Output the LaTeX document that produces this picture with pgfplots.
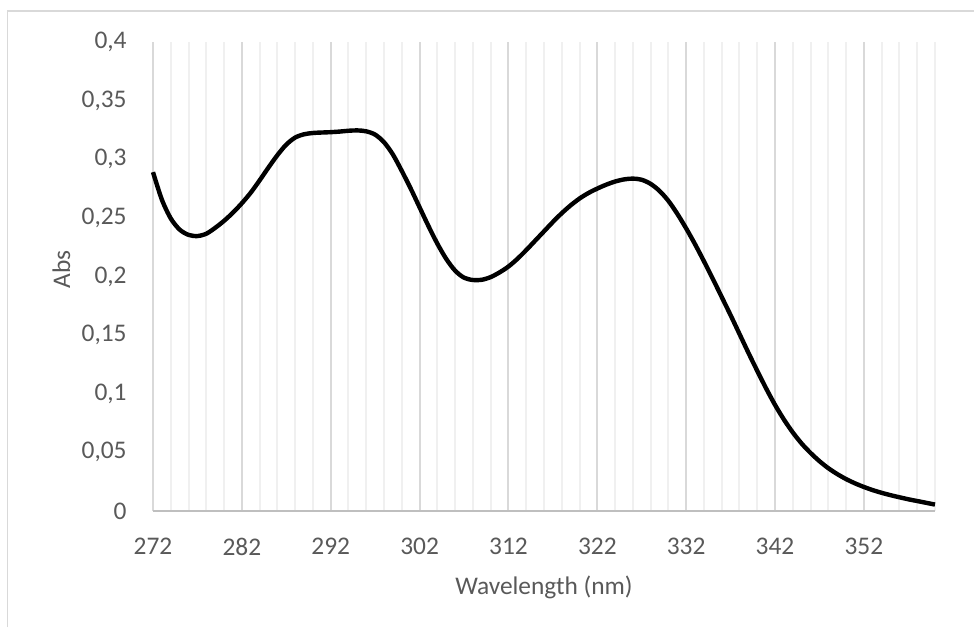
\documentclass[border=0pt]{standalone}
\usepackage{pgfplots}
\pgfplotsset{compat=1.18}
\usepackage{fontspec}
\setmainfont{Carlito}
\definecolor{ctext}{HTML}{595959}
\definecolor{cmajor}{HTML}{D9D9D9}
\definecolor{cminor}{HTML}{F0F0F0}
\definecolor{caxis}{HTML}{BFBFBF}
\definecolor{cborder}{HTML}{D9D9D9}
\pgfplotstableread{
x y
272 0.289
273 0.2655
274 0.2495
275 0.2400
276 0.2355
277 0.2345
278 0.2365
279 0.2415
280 0.2475
281 0.2545
282 0.2625
283 0.2715
284 0.2820
285 0.2930
286 0.3035
287 0.3125
288 0.3185
289 0.3213
290 0.3224
291 0.3228
292 0.3231
293 0.3236
294 0.3243
295 0.3246
296 0.3238
297 0.3210
298 0.3145
299 0.3040
300 0.2900
301 0.2750
302 0.2590
303 0.2430
304 0.2280
305 0.2150
306 0.2050
307 0.1990
308 0.1970
309 0.1972
310 0.1995
311 0.2035
312 0.2085
313 0.2150
314 0.2225
315 0.2305
316 0.2385
317 0.2465
318 0.2540
319 0.2607
320 0.2665
321 0.2712
322 0.2750
323 0.2783
324 0.2810
325 0.2828
326 0.2835
327 0.2825
328 0.2790
329 0.2730
330 0.2645
331 0.2535
332 0.2410
333 0.2275
334 0.2130
335 0.1980
336 0.1825
337 0.1670
338 0.1510
339 0.1350
340 0.1195
341 0.1045
342 0.0905
343 0.0780
344 0.0670
345 0.0575
346 0.0495
347 0.0425
348 0.0365
349 0.0315
350 0.0272
351 0.0236
352 0.0205
353 0.0178
354 0.0155
355 0.0135
356 0.0117
357 0.0100
358 0.0085
359 0.0070
360 0.0055
}\spectrum
\begin{document}
\begin{tikzpicture}
\useasboundingbox (0,0) rectangle (487pt,313.5pt);
\draw[cborder, line width=0.75pt] (3.75pt,0) -- (3.75pt,308pt) -- (487pt,308pt);
\begin{axis}[
  at={(76.5pt,58pt)}, anchor=south west,
  scale only axis, width=391pt, height=234.5pt,
  xmin=272, xmax=360, ymin=0, ymax=0.4,
  axis x line*=bottom, axis y line*=left,
  x axis line style={draw=caxis, line width=1pt, -},
  y axis line style={draw=none},
  major tick length=0pt, minor tick length=0pt,
  xtick={272,282,292,302,312,322,332,342,352},
  xticklabels={272,282,292,302,312,322,332,342,352},
  minor xtick={274,276,278,280,284,286,288,290,294,296,298,300,304,306,308,310,314,316,318,320,324,326,328,330,334,336,338,340,344,346,348,350,354,356,358,360},
  ytick={0,0.05,0.1,0.15,0.2,0.25,0.3,0.35,0.4},
  yticklabels={0,{0,05},{0,1},{0,15},{0,2},{0,25},{0,3},{0,35},{0,4}},
  xmajorgrids, xminorgrids, ymajorgrids=false,
  major grid style={draw=cmajor, line width=1pt},
  minor grid style={draw=cminor, line width=1pt},
  tick label style={font=\fontsize{12.7}{15}\selectfont, text=ctext},
  xticklabel style={anchor=north, inner sep=0pt, yshift=-13.5pt},
  yticklabel style={anchor=east, inner sep=0pt, xshift=-13pt},
  xlabel={Wavelength (nm)}, ylabel={Abs},
  label style={font=\fontsize{12.7}{15}\selectfont, text=ctext},
  xlabel style={at={(axis description cs:0.5,-0.179)}, anchor=base},
  ylabel style={at={(axis description cs:-0.1061,0.515)}, anchor=base, rotate=0},
  clip=false,
]
\addplot[black, line width=2.2pt, smooth, tension=0.5] table[x=x,y=y] {\spectrum};
\end{axis}
\end{tikzpicture}
\end{document}
